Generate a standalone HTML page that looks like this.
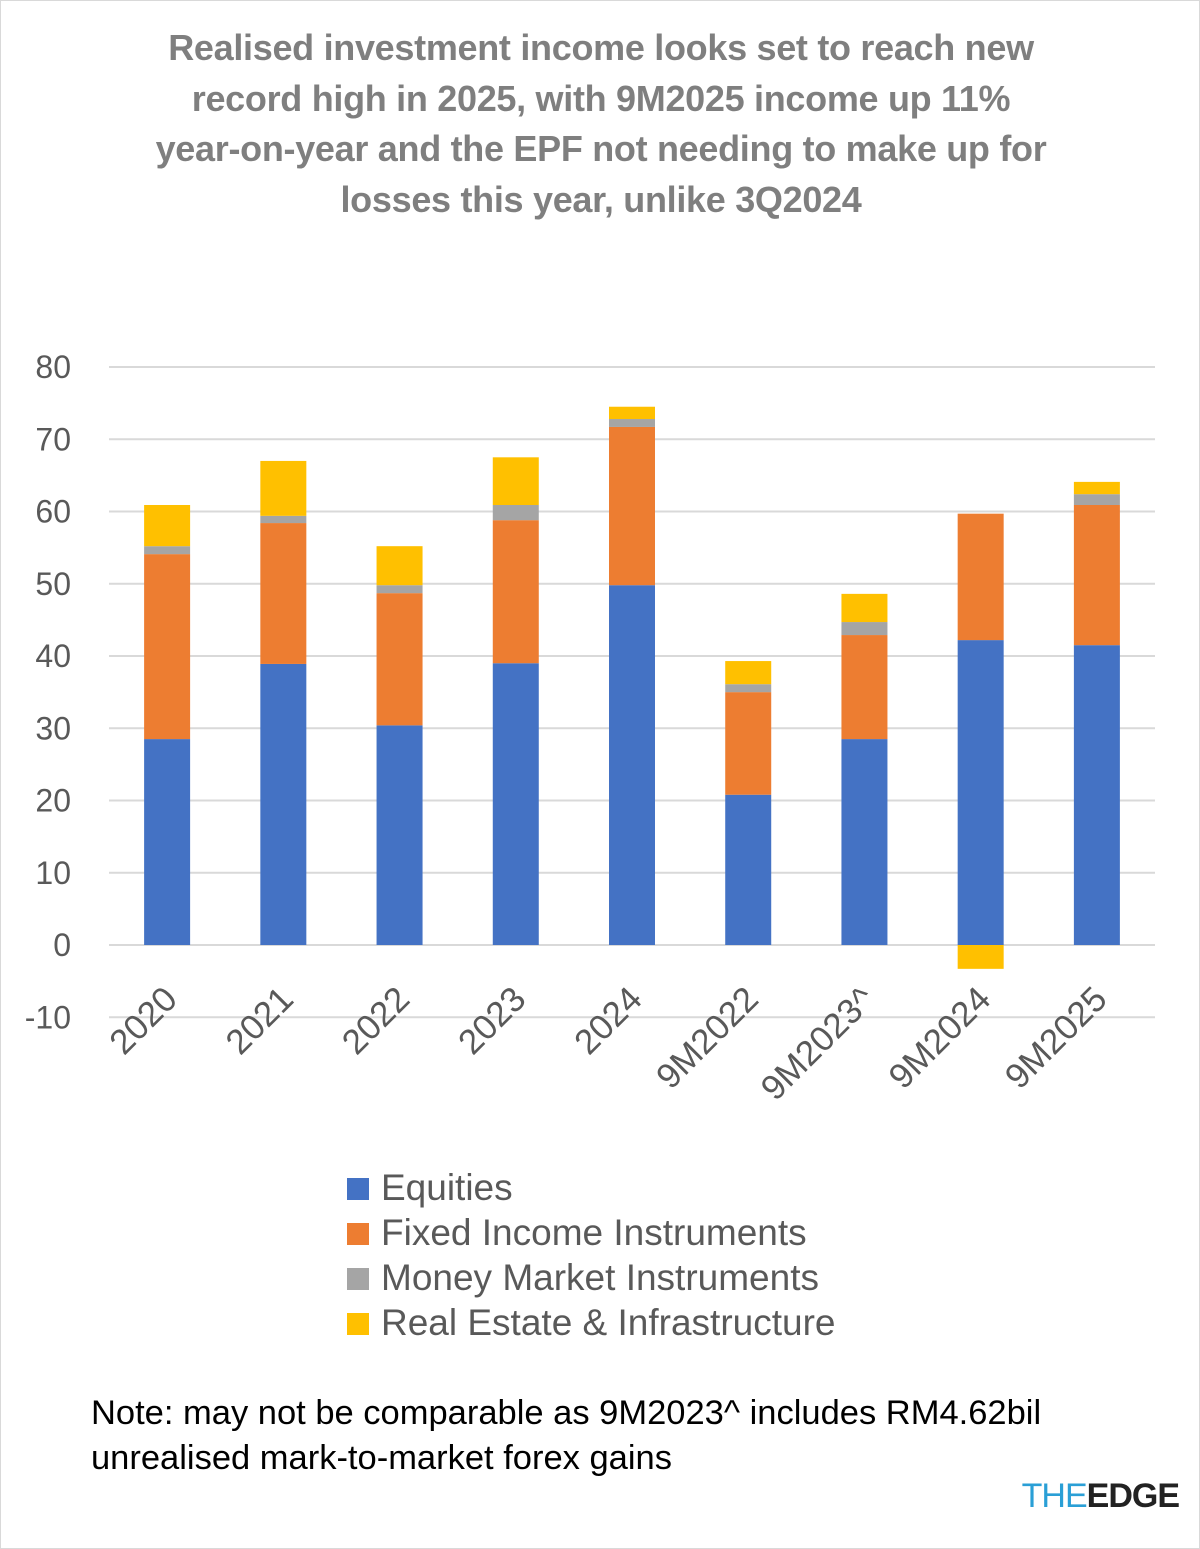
<!DOCTYPE html>
<html><head><meta charset="utf-8"><style>
body{margin:0;background:#fff;}
#wrap{position:relative;width:1198px;height:1547px;border:1px solid #d9d9d9;font-family:"Liberation Sans",sans-serif;overflow:hidden;}
#title{position:absolute;top:22px;left:0;width:1200px;text-align:center;font-weight:bold;font-size:36px;line-height:50.5px;color:#7f7f7f;letter-spacing:-0.3px}
.leg{position:absolute;left:346px;font-size:37px;color:#595959;}
.leg span{display:inline-block;width:22px;height:22px;margin-right:12px;vertical-align:0px}
#note{position:absolute;left:90px;top:1390px;font-size:34.5px;line-height:45px;color:#000}
#logo{position:absolute;right:20px;top:1476px;font-size:34px;font-weight:bold;letter-spacing:-1px}
</style></head><body>
<div id="wrap">
<div id="title">Realised investment income looks set to reach new<br>record high in 2025, with 9M2025 income up 11%<br>year-on-year and the EPF not needing to make up for<br>losses this year, unlike 3Q2024</div>
<svg id="chart" width="1200" height="1120" style="position:absolute;left:0;top:0"></svg>
<div class="leg" style="top:1166px"><span style="background:#4472c4"></span>Equities</div>
<div class="leg" style="top:1211px"><span style="background:#ed7d31"></span>Fixed Income Instruments</div>
<div class="leg" style="top:1256px"><span style="background:#a5a5a5"></span>Money Market Instruments</div>
<div class="leg" style="top:1301px"><span style="background:#ffc000"></span>Real Estate &amp; Infrastructure</div>
<div id="note">Note: may not be comparable as 9M2023^ includes RM4.62bil<br>unrealised mark-to-market forex gains</div>
<div id="logo"><span style="color:#2a9fd6;font-weight:normal">THE</span><span style="color:#222">EDGE</span></div>
</div>
<script>
const categories=["2020","2021","2022","2023","2024","9M2022","9M2023^","9M2024","9M2025"];
const equities=[28.5,38.9,30.4,39.0,49.8,20.8,28.5,42.2,41.5];
const fixedIncome=[25.6,19.5,18.3,19.8,21.9,14.2,14.4,17.5,19.4];
const moneyMarket=[1.1,1.0,1.1,2.1,1.1,1.1,1.8,0,1.5];
const realEstate=[5.7,7.6,5.4,6.6,1.7,3.2,3.9,-3.3,1.7];
const yTicks=[-10,0,10,20,30,40,50,60,70,80];
const series=[{name:"equities",v:equities,c:"#4472c4"},{name:"fixed-income",v:fixedIncome,c:"#ed7d31"},{name:"money-market",v:moneyMarket,c:"#a5a5a5"},{name:"real-estate",v:realEstate,c:"#ffc000"}];
const NS="http://www.w3.org/2000/svg",svg=document.getElementById("chart");
const x0=108,x1=1154,bw=46;
const y=v=>944-v*7.225;
const xc=i=>x0+(x1-x0)/categories.length*(i+0.5);
function mk(t,a){const e=document.createElementNS(NS,t);for(const k in a)e.setAttribute(k,a[k]);svg.appendChild(e);return e;}
yTicks.forEach(t=>{
 const l=mk("line",{x1:x0,x2:x1,y1:y(t),y2:y(t),stroke:"#d9d9d9","stroke-width":2});
 
 
 const tx=mk("text",{x:70,y:y(t)+11,"text-anchor":"end","font-size":32,fill:"#595959","font-family":"Liberation Sans, sans-serif"});
 tx.textContent=t;
 
 
});
categories.forEach((c,i)=>{
 let pos=0,neg=0;
 series.forEach(s=>{
  const v=s.v[i];if(!v)return;
  let a,b;
  if(v>=0){a=pos;b=pos+v;pos=b;}else{a=neg;b=neg+v;neg=b;}
  const r=mk("rect",{x:xc(i)-bw/2,y:y(Math.max(a,b)),width:bw,height:Math.abs(y(a)-y(b)),fill:s.c});
  
  
 });
 const tx=mk("text",{x:0,y:0,"text-anchor":"end","font-size":35,fill:"#595959","font-family":"Liberation Sans, sans-serif",transform:`translate(${xc(i)+12},${y(-10)-16}) rotate(-45)`});
 tx.textContent=c;
 
 
});
</script>
</body></html>
